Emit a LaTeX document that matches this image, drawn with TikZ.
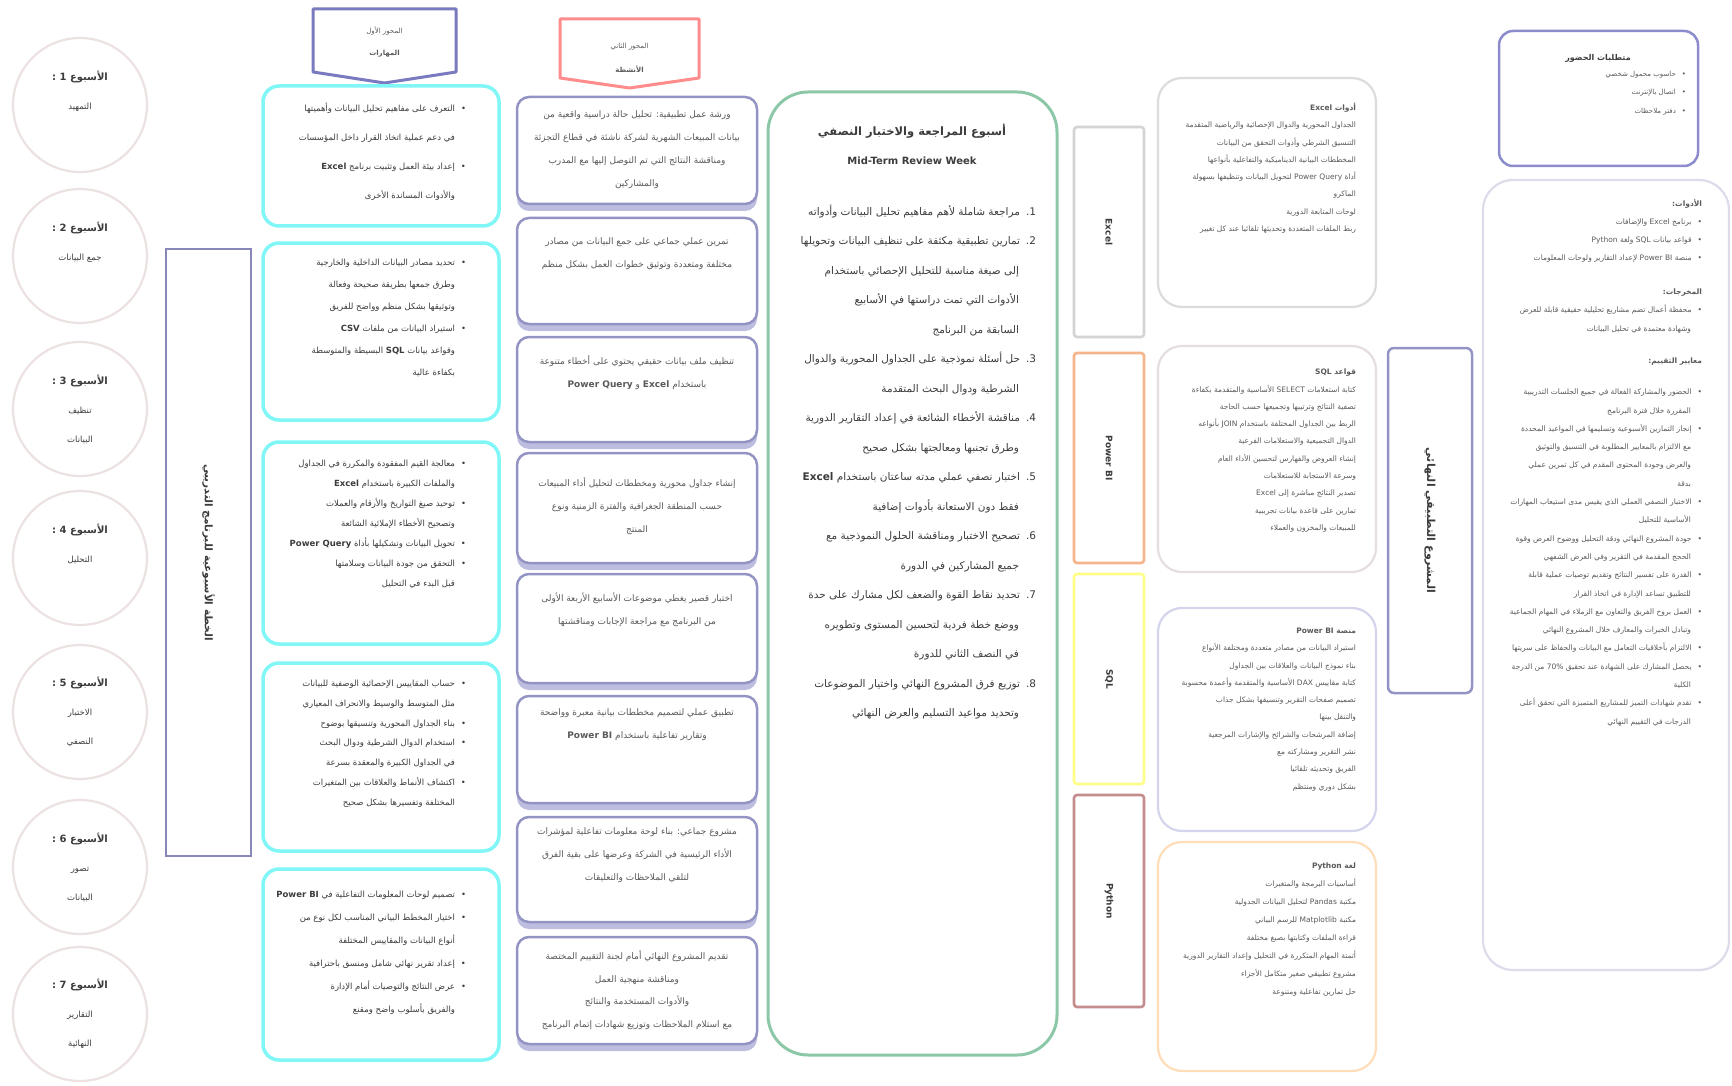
\documentclass[tikz,border=0pt]{standalone}
\usepackage{fontspec}
\setmainfont{DejaVu Sans}
\newfontfamily\arabicfont[Script=Arabic]{DejaVu Sans}
\TeXXeTstate=1
\newcommand{\arl}[1]{\beginR #1\endR}
\newcommand{\lat}[1]{\beginL #1\endL}
\newcommand{\af}[2]{\arabicfont\fontsize{#1}{#2}\selectfont}
\newcommand{\mybul}{•\hspace*{6pt}}
\newcommand{\myind}{\hspace*{11pt}}
\definecolor{circcol}{HTML}{ECE2E2}
\definecolor{barcol}{HTML}{8888B8}
\definecolor{tagp}{HTML}{7A7AC0}
\definecolor{tagr}{HTML}{FF8C8C}
\definecolor{cyancol}{HTML}{80F6F6}
\definecolor{pcol}{HTML}{9494C4}
\definecolor{pshadow}{HTML}{BDBDE0}
\definecolor{greencol}{HTML}{8CC8A8}
\definecolor{ngray}{HTML}{D4D4D4}
\definecolor{norange}{HTML}{F4B48C}
\definecolor{nyellow}{HTML}{FFFF88}
\definecolor{nbrown}{HTML}{C48C8C}
\definecolor{rgray}{HTML}{DCDCDC}
\definecolor{rpink}{HTML}{E6DEDE}
\definecolor{rlav}{HTML}{D4D4EC}
\definecolor{rorange}{HTML}{FFDDB8}
\definecolor{vpurple}{HTML}{9494C4}
\definecolor{trpurple}{HTML}{8C8CCC}
\definecolor{bigcol}{HTML}{DCDCEA}
\definecolor{txt}{HTML}{3C3C3C}
\definecolor{txtl}{HTML}{5A5A5A}
\begin{document}
\begin{tikzpicture}[x=1pt,y=-1pt,
 every node/.style={inner sep=0pt,outer sep=0pt},
 circ/.style={circle,draw=circcol,line width=2.2pt,minimum size=134pt,align=center,text=txt,font={\af{8.5}{29}}},
 cbox/.style={draw=cyancol,line width=3.5pt,rounded corners=16pt,minimum width=236pt},
 pbox/.style={draw=pcol,fill=white,line width=2.5pt,rounded corners=12pt,minimum width=240pt},
 nbox/.style={line width=2.6pt,rounded corners=3pt,minimum width=70pt,minimum height=210pt},
 rbox/.style={line width=2.2pt,rounded corners=24pt,minimum width=218pt},
 ltxt/.style={anchor=north east,align=right,text=txt},
 ctxt/.style={anchor=north,align=center,text=txtl,font={\af{9}{23}}},
 vtxt/.style={rotate=-90,text=txt},
 rtxt/.style={anchor=north east,align=right,text=txtl,font={\af{7.5}{17.3}}},
]
\fill[white] (0,0) rectangle (1732,1086);
\useasboundingbox (0,0) rectangle (1732,1086);

% week circles
\node[circ] (w1) at (80,105) {\arl{{\bfseries\fontsize{10}{29}\selectfont الأسبوع 1 :}}\\\arl{التمهيد}\\\mbox{}};
\node[circ] (w2) at (80,256) {\arl{{\bfseries\fontsize{10}{29}\selectfont الأسبوع 2 :}}\\\arl{جمع البيانات}\\\mbox{}};
\node[circ] (w3) at (80,409) {\arl{{\bfseries\fontsize{10}{29}\selectfont الأسبوع 3 :}}\\\arl{تنظيف}\\\arl{البيانات}};
\node[circ] (w4) at (80,558) {\arl{{\bfseries\fontsize{10}{29}\selectfont الأسبوع 4 :}}\\\arl{التحليل}\\\mbox{}};
\node[circ] (w5) at (80,712) {\arl{{\bfseries\fontsize{10}{29}\selectfont الأسبوع 5 :}}\\\arl{الاختبار}\\\arl{النصفي}};
\node[circ] (w6) at (80,867) {\arl{{\bfseries\fontsize{10}{29}\selectfont الأسبوع 6 :}}\\\arl{تصور}\\\arl{البيانات}};
\node[circ] (w7) at (80,1014) {\arl{{\bfseries\fontsize{10}{29}\selectfont الأسبوع 7 :}}\\\arl{التقارير}\\\arl{النهائية}};

% left vertical bar
\node[draw=barcol,line width=2.5pt,minimum width=85pt,minimum height=607pt] (bar) at (208.5,552.5) {};
\node[vtxt,font={\af{10.5}{12}\bfseries}] (bartxt) at (bar.center) {\arl{الخطة الأسبوعية للبرنامج التدريبي}};

% top tags
\draw[tagp,line width=3pt,line join=round] (313,9) -- (456,9) -- (456,72) -- (384.5,83) -- (313,72) -- cycle;
\node[align=center,text=txtl,font={\af{7}{22}}] (tagptxt) at (384.5,42) {\arl{المحور الأول}\\\arl{{\bfseries المهارات}}};
\draw[tagr,line width=3pt,line join=round] (560,19) -- (699,19) -- (699,78) -- (629.5,88) -- (560,78) -- cycle;
\node[align=center,text=txtl,font={\af{7}{24}}] (tagrtxt) at (629.5,58) {\arl{المحور الثاني}\\\arl{{\bfseries الأنشطة}}};

% cyan boxes
\node[cbox,minimum height=140pt] (c1) at (381,156) {};
\node[cbox,minimum height=177pt] (c2) at (381,331.5) {};
\node[cbox,minimum height=202pt] (c3) at (381,543) {};
\node[cbox,minimum height=188pt] (c4) at (381,757) {};
\node[cbox,minimum height=191pt] (c5) at (381,964.5) {};

\node[ltxt,font={\af{8.5}{29}}] (c1t) at (466,103) {\arl{\mybul التعرف على مفاهيم تحليل البيانات وأهميتها}\\
\arl{\myind في دعم عملية اتخاذ القرار داخل المؤسسات}\\
\arl{\mybul إعداد بيئة العمل وتثبيت برنامج {\bfseries Excel}}\\
\arl{\myind والأدوات المساندة الأخرى}};
\node[ltxt,font={\af{8.5}{22}}] (c2t) at (466,259) {\arl{\mybul تحديد مصادر البيانات الداخلية والخارجية}\\
\arl{\myind وطرق جمعها بطريقة صحيحة وفعالة}\\
\arl{\myind وتوثيقها بشكل منظم وواضح للفريق}\\
\arl{\mybul استيراد البيانات من ملفات {\bfseries CSV}}\\
\arl{\myind وقواعد بيانات {\bfseries SQL} البسيطة والمتوسطة}\\
\arl{\myind بكفاءة عالية}};
\node[ltxt,font={\af{8.5}{20}}] (c3t) at (466,460) {\arl{\mybul معالجة القيم المفقودة والمكررة في الجداول}\\
\arl{\myind والملفات الكبيرة باستخدام {\bfseries Excel}}\\
\arl{\mybul توحيد صيغ التواريخ والأرقام والعملات}\\
\arl{\myind وتصحيح الأخطاء الإملائية الشائعة}\\
\arl{\mybul تحويل البيانات وتشكيلها بأداة {\bfseries\lat{Power Query}}}\\
\arl{\mybul التحقق من جودة البيانات وسلامتها}\\
\arl{\myind قبل البدء في التحليل}};
\node[ltxt,font={\af{8.5}{19.8}}] (c4t) at (466,680) {\arl{\mybul حساب المقاييس الإحصائية الوصفية للبيانات}\\
\arl{\myind مثل المتوسط والوسيط والانحراف المعياري}\\
\arl{\mybul بناء الجداول المحورية وتنسيقها بوضوح}\\
\arl{\mybul استخدام الدوال الشرطية ودوال البحث}\\
\arl{\myind في الجداول الكبيرة والمعقدة بسرعة}\\
\arl{\mybul اكتشاف الأنماط والعلاقات بين المتغيرات}\\
\arl{\myind المختلفة وتفسيرها بشكل صحيح}};
\node[ltxt,font={\af{8.5}{23}}] (c5t) at (466,891) {\arl{\mybul تصميم لوحات المعلومات التفاعلية في {\bfseries\lat{Power BI}}}\\
\arl{\mybul اختيار المخطط البياني المناسب لكل نوع من}\\
\arl{\myind أنواع البيانات والمقاييس المختلفة}\\
\arl{\mybul إعداد تقرير نهائي شامل ومنسق باحترافية}\\
\arl{\mybul عرض النتائج والتوصيات أمام الإدارة}\\
\arl{\myind والفريق بأسلوب واضح ومقنع}};

% activity boxes (shadows first)
\foreach \yc/\h in {150.5/107,271/106,389.5/105,508/110,628.5/109,749.5/107,869.5/105,990.5/107}
  \fill[pshadow,rounded corners=12pt] (517,{\yc-\h/2+7}) rectangle (757,{\yc+\h/2+7});
\node[pbox,minimum height=107pt] (p1) at (637,150.5) {};
\node[pbox,minimum height=106pt] (p2) at (637,271) {};
\node[pbox,minimum height=105pt] (p3) at (637,389.5) {};
\node[pbox,minimum height=110pt] (p4) at (637,508) {};
\node[pbox,minimum height=109pt] (p5) at (637,628.5) {};
\node[pbox,minimum height=107pt] (p6) at (637,749.5) {};
\node[pbox,minimum height=105pt] (p7) at (637,869.5) {};
\node[pbox,minimum height=107pt] (p8) at (637,990.5) {};

\node[ctxt] (p1t) at (637,111) {\arl{ورشة عمل تطبيقية: تحليل حالة دراسية واقعية من}\\
\arl{بيانات المبيعات الشهرية لشركة ناشئة في قطاع التجزئة}\\
\arl{ومناقشة النتائج التي تم التوصل إليها مع المدرب}\\
\arl{والمشاركين}};
\node[ctxt] (p2t) at (637,238) {\arl{تمرين عملي جماعي على جمع البيانات من مصادر}\\
\arl{مختلفة ومتعددة وتوثيق خطوات العمل بشكل منظم}};
\node[ctxt] (p3t) at (637,356) {\arl{تنظيف ملف بيانات حقيقي يحتوي على أخطاء متنوعة}\\
\arl{باستخدام {\bfseries Excel} و {\bfseries\lat{Power Query}}}};
\node[ctxt] (p4t) at (637,478) {\arl{إنشاء جداول محورية ومخططات لتحليل أداء المبيعات}\\
\arl{حسب المنطقة الجغرافية والفترة الزمنية ونوع}\\
\arl{المنتج}};
\node[ctxt] (p5t) at (637,593) {\arl{اختبار قصير يغطي موضوعات الأسابيع الأربعة الأولى}\\
\arl{من البرنامج مع مراجعة الإجابات ومناقشتها}};
\node[ctxt] (p6t) at (637,709) {\arl{تطبيق عملي لتصميم مخططات بيانية معبرة وواضحة}\\
\arl{وتقارير تفاعلية باستخدام {\bfseries\lat{Power BI}}}};
\node[ctxt] (p7t) at (637,828) {\arl{مشروع جماعي: بناء لوحة معلومات تفاعلية لمؤشرات}\\
\arl{الأداء الرئيسية في الشركة وعرضها على بقية الفرق}\\
\arl{لتلقي الملاحظات والتعليقات}};
\node[ctxt,font={\af{9}{22.5}}] (p8t) at (637,951) {\arl{تقديم المشروع النهائي أمام لجنة التقييم المختصة}\\
\arl{ومناقشة منهجية العمل}\\
\arl{والأدوات المستخدمة والنتائج}\\
\arl{مع استلام الملاحظات وتوزيع شهادات إتمام البرنامج}};

% green mid-term box
\node[draw=greencol,line width=3pt,rounded corners=40pt,minimum width=289pt,minimum height=963pt] (green) at (912.5,573.5) {};
\node[anchor=base,text=txt,font={\af{11.5}{14}\bfseries}] (gt1) at (912,136) {\arl{أسبوع المراجعة والاختبار النصفي}};
\node[anchor=base,text=txt,font={\bfseries\fontsize{10}{12}\selectfont}] (gt2) at (912,165) {Mid-Term Review Week};
\node[ltxt,font={\af{10.5}{29.5}}] (glist) at (1036,205) {\arl{1.\hspace*{6pt}مراجعة شاملة لأهم مفاهيم تحليل البيانات وأدواته}\\
\arl{2.\hspace*{6pt}تمارين تطبيقية مكثفة على تنظيف البيانات وتحويلها}\\
\arl{\hspace*{17pt}إلى صيغة مناسبة للتحليل الإحصائي باستخدام}\\
\arl{\hspace*{17pt}الأدوات التي تمت دراستها في الأسابيع}\\
\arl{\hspace*{17pt}السابقة من البرنامج}\\
\arl{3.\hspace*{6pt}حل أسئلة نموذجية على الجداول المحورية والدوال}\\
\arl{\hspace*{17pt}الشرطية ودوال البحث المتقدمة}\\
\arl{4.\hspace*{6pt}مناقشة الأخطاء الشائعة في إعداد التقارير الدورية}\\
\arl{\hspace*{17pt}وطرق تجنبها ومعالجتها بشكل صحيح}\\
\arl{5.\hspace*{6pt}اختبار نصفي عملي مدته ساعتان باستخدام {\bfseries Excel}}\\
\arl{\hspace*{17pt}فقط دون الاستعانة بأدوات إضافية}\\
\arl{6.\hspace*{6pt}تصحيح الاختبار ومناقشة الحلول النموذجية مع}\\
\arl{\hspace*{17pt}جميع المشاركين في الدورة}\\
\arl{7.\hspace*{6pt}تحديد نقاط القوة والضعف لكل مشارك على حدة}\\
\arl{\hspace*{17pt}ووضع خطة فردية لتحسين المستوى وتطويره}\\
\arl{\hspace*{17pt}في النصف الثاني للدورة}\\
\arl{8.\hspace*{6pt}توزيع فرق المشروع النهائي واختيار الموضوعات}\\
\arl{\hspace*{17pt}وتحديد مواعيد التسليم والعرض النهائي}};

% narrow tool boxes
\node[nbox,draw=ngray] (n1) at (1109,232) {};
\node[nbox,draw=norange] (n2) at (1109,458) {};
\node[nbox,draw=nyellow] (n3) at (1109,679) {};
\node[nbox,draw=nbrown,minimum height=212pt] (n4) at (1109,901) {};
\node[vtxt,font={\bfseries\fontsize{9}{11}\selectfont}] (n1t) at (n1.center) {Excel};
\node[vtxt,font={\bfseries\fontsize{9}{11}\selectfont}] (n2t) at (n2.center) {Power BI};
\node[vtxt,font={\bfseries\fontsize{9}{11}\selectfont}] (n3t) at (n3.center) {SQL};
\node[vtxt,font={\bfseries\fontsize{9}{11}\selectfont}] (n4t) at (n4.center) {Python};

% tool detail boxes
\node[rbox,draw=rgray,minimum height=229pt] (r1) at (1267,192.5) {};
\node[rbox,draw=rpink,minimum height=226pt] (r2) at (1267,459) {};
\node[rbox,draw=rlav,minimum height=223pt] (r3) at (1267,719.5) {};
\node[rbox,draw=rorange,minimum height=229pt] (r4) at (1267,956.5) {};

\node[rtxt] (r1t) at (1356,103) {\arl{{\bfseries أدوات Excel}}\\
\arl{الجداول المحورية والدوال الإحصائية والرياضية المتقدمة}\\
\arl{التنسيق الشرطي وأدوات التحقق من البيانات}\\
\arl{المخططات البيانية الديناميكية والتفاعلية بأنواعها}\\
\arl{أداة \lat{Power Query} لتحويل البيانات وتنظيفها بسهولة}\\
\arl{الماكرو}\\
\arl{لوحات المتابعة الدورية}\\
\arl{ربط الملفات المتعددة وتحديثها تلقائيا عند كل تغيير}};
\node[rtxt] (r2t) at (1356,369) {\arl{{\bfseries قواعد SQL}}\\
\arl{كتابة استعلامات SELECT الأساسية والمتقدمة بكفاءة}\\
\arl{تصفية النتائج وترتيبها وتجميعها حسب الحاجة}\\
\arl{الربط بين الجداول المختلفة باستخدام JOIN بأنواعه}\\
\arl{الدوال التجميعية والاستعلامات الفرعية}\\
\arl{إنشاء العروض والفهارس لتحسين الأداء العام}\\
\arl{وسرعة الاستجابة للاستعلامات}\\
\arl{تصدير النتائج مباشرة إلى Excel}\\
\arl{تمارين على قاعدة بيانات تجريبية}\\
\arl{للمبيعات والمخزون والعملاء}};
\node[rtxt] (r3t) at (1356,628) {\arl{{\bfseries منصة \lat{Power BI}}}\\
\arl{استيراد البيانات من مصادر متعددة ومختلفة الأنواع}\\
\arl{بناء نموذج البيانات والعلاقات بين الجداول}\\
\arl{كتابة مقاييس DAX الأساسية والمتقدمة وأعمدة محسوبة}\\
\arl{تصميم صفحات التقرير وتنسيقها بشكل جذاب}\\
\arl{والتنقل بينها}\\
\arl{إضافة المرشحات والشرائح والإشارات المرجعية}\\
\arl{نشر التقرير ومشاركته مع}\\
\arl{الفريق وتحديثه تلقائيا}\\
\arl{بشكل دوري ومنتظم}};
\node[rtxt,font={\af{7.5}{18}}] (r4t) at (1356,863) {\arl{{\bfseries لغة Python}}\\
\arl{أساسيات البرمجة والمتغيرات}\\
\arl{مكتبة Pandas لتحليل البيانات الجدولية}\\
\arl{مكتبة Matplotlib للرسم البياني}\\
\arl{قراءة الملفات وكتابتها بصيغ مختلفة}\\
\arl{أتمتة المهام المتكررة في التحليل وإعداد التقارير الدورية}\\
\arl{مشروع تطبيقي صغير متكامل الأجزاء}\\
\arl{حل تمارين تفاعلية ومتنوعة}};

% project vertical box
\node[draw=vpurple,line width=2.5pt,rounded corners=6pt,minimum width=84pt,minimum height=345pt] (proj) at (1430,520.5) {};
\node[vtxt,font={\af{11}{13}\bfseries}] (projt) at (proj.center) {\arl{المشروع التطبيقي النهائي}};

% top right requirements box
\node[draw=trpurple,line width=2.5pt,rounded corners=14pt,minimum width=199pt,minimum height=135pt] (req) at (1598.5,98.5) {};
\node[anchor=base,text=txt,font={\af{8}{10}\bfseries}] (reqt) at (1598,61) {\arl{متطلبات الحضور}};
\node[rtxt,font={\af{7}{18.5}}] (reql) at (1686,71) {\arl{\mybul حاسوب محمول شخصي}\\
\arl{\mybul اتصال بالإنترنت}\\
\arl{\mybul دفتر ملاحظات}};

% big right info box
\node[draw=bigcol,line width=2.2pt,rounded corners=30pt,minimum width=246pt,minimum height=790pt] (info) at (1606,575) {};
\node[rtxt,font={\af{7.5}{18.3}}] (s1) at (1702,199) {\arl{{\bfseries الأدوات:}}\\
\arl{\mybul برنامج Excel والإضافات}\\
\arl{\mybul قواعد بيانات SQL ولغة Python}\\
\arl{\mybul منصة \lat{Power BI} لإعداد التقارير ولوحات المعلومات}};
\node[rtxt,font={\af{7.5}{18.3}}] (s2) at (1702,289) {\arl{{\bfseries المخرجات:}}\\
\arl{\mybul محفظة أعمال تضم مشاريع تحليلية حقيقية قابلة للعرض}\\
\arl{\myind وشهادة معتمدة في تحليل البيانات}};
\node[rtxt,font={\af{7.5}{18.3}}] (s3) at (1702,358) {\arl{{\bfseries معايير التقييم:}}};
\node[rtxt,font={\af{7.5}{18.3}}] (s4) at (1702,389) {\arl{\mybul الحضور والمشاركة الفعالة في جميع الجلسات التدريبية}\\
\arl{\myind المقررة خلال فترة البرنامج}\\
\arl{\mybul إنجاز التمارين الأسبوعية وتسليمها في المواعيد المحددة}\\
\arl{\myind مع الالتزام بالمعايير المطلوبة في التنسيق والتوثيق}\\
\arl{\myind والعرض وجودة المحتوى المقدم في كل تمرين عملي}\\
\arl{\myind بدقة}\\
\arl{\mybul الاختبار النصفي العملي الذي يقيس مدى استيعاب المهارات}\\
\arl{\myind الأساسية للتحليل}\\
\arl{\mybul جودة المشروع النهائي ودقة التحليل ووضوح العرض وقوة}\\
\arl{\myind الحجج المقدمة في التقرير وفي العرض الشفهي}\\
\arl{\mybul القدرة على تفسير النتائج وتقديم توصيات عملية قابلة}\\
\arl{\myind للتطبيق تساعد الإدارة في اتخاذ القرار}\\
\arl{\mybul العمل بروح الفريق والتعاون مع الزملاء في المهام الجماعية}\\
\arl{\myind وتبادل الخبرات والمعارف خلال المشروع النهائي}\\
\arl{\mybul الالتزام بأخلاقيات التعامل مع البيانات والحفاظ على سريتها}\\
\arl{\mybul يحصل المشارك على الشهادة عند تحقيق 70\% من الدرجة}\\
\arl{\myind الكلية}\\
\arl{\mybul تقدم شهادات التميز للمشاريع المتميزة التي تحقق أعلى}\\
\arl{\myind الدرجات في التقييم النهائي}};
\end{tikzpicture}
\end{document}
